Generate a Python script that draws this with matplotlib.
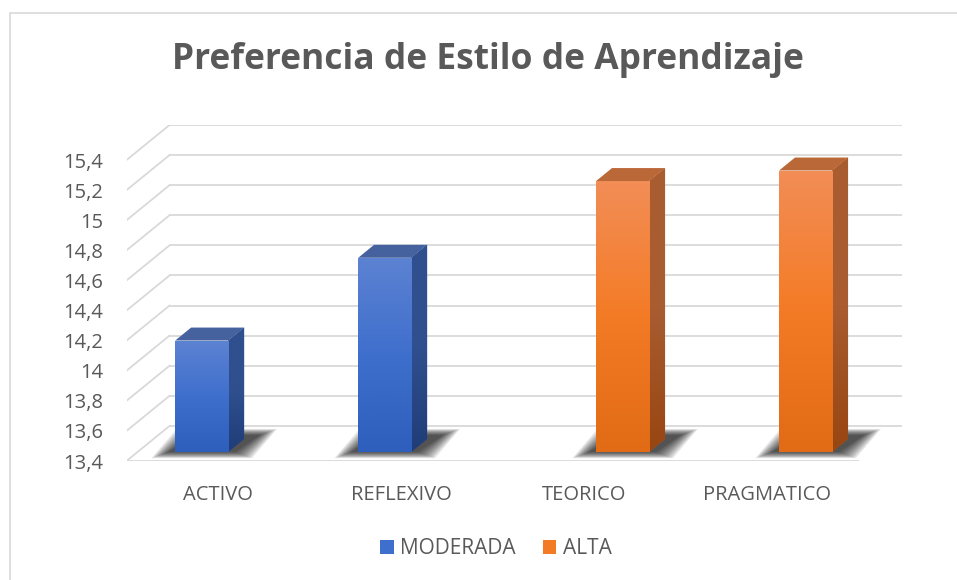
import numpy as np
import matplotlib
matplotlib.use("Agg")
import matplotlib.pyplot as plt
import matplotlib.patches as mpatches
from matplotlib.colors import LinearSegmentedColormap

# datos del grafico
categorias = ['ACTIVO', 'REFLEXIVO', 'TEORICO', 'PRAGMATICO']
series = ['MODERADA', 'ALTA']
serie_de_cat = [0, 0, 1, 1]
valores = [14.14, 14.69, 15.20, 15.27]
ticks_y = [13.4, 13.6, 13.8, 14.0, 14.2, 14.4, 14.6, 14.8, 15.0, 15.2, 15.4]
etiquetas_y = ['13,4', '13,6', '13,8', '14', '14,2', '14,4', '14,6', '14,8', '15', '15,2', '15,4']

plt.rcParams['font.family'] = ['Open Sans', 'DejaVu Sans']
gris = '#595959'

fig = plt.figure(figsize=(9.57, 5.80), dpi=100)

# perspectiva "3D" (desplazamiento del fondo en unidades de datos)
dx, dy = 0.235, 0.233
ymin, ymax = 13.4, 15.4
xmin, xmax = -0.5, 3.5

ax = fig.add_axes([126.5 / 957, (580 - 461) / 580, 775 / 957, 336 / 580])
for s in ax.spines.values():
    s.set_visible(False)

"""rejilla: pared del fondo y diagonales"""
gcol = '#d9d9d9'
for v in ticks_y:
    ax.plot([xmin + dx, xmax + dx], [v + dy, v + dy], color=gcol, lw=1.3, zorder=1)
    ax.plot([xmin, xmin + dx], [v, v + dy], color=gcol, lw=1.3, zorder=1)
ax.plot([xmin, xmax], [ymin, ymin], color=gcol, lw=1.3, zorder=1)

colores = {
    0: dict(top='#5c82d2', mid='#3f6fcd', bot='#2f5fbd', side_t='#2f4f8e', side_b='#1f3d78', cap='#45629f'),
    1: dict(top='#f28d56', mid='#f47b25', bot='#e26b16', side_t='#a85c30', side_b='#984612', cap='#bb6838'),
}

f0, d = 0.26, 0.37     # posicion y profundidad de las barras
off, w = 0.15, 0.29

def gradiente(patch, c_top, c_mid, c_bot, extent, z):
    cmap = LinearSegmentedColormap.from_list('g', [c_bot, c_mid, c_top])
    img = ax.imshow(np.linspace(0, 1, 64).reshape(-1, 1), cmap=cmap, aspect='auto',
                    extent=extent, origin='lower', zorder=z, interpolation='bicubic')
    img.set_clip_path(patch)

for i, (cat, val) in enumerate(zip(categorias, valores)):
    s = serie_de_cat[i]
    c = colores[s]
    xc = i + f0 * dx + (-off if s == 0 else off)
    b = ymin + f0 * dy
    t = val + f0 * dy
    xl, xr = xc - w / 2, xc + w / 2

    # sombra difusa sobre el piso
    p = 0.54
    for k in range(12):
        e = 0.06 - k * 0.0085   # borde difuso
        ey = e * 0.45
        sh = mpatches.Polygon([(xl - 0.07 - e, b - 0.015 - ey), (xr + 0.07 + e, b - 0.015 - ey),
                               (xr + p * dx + 0.08 + e, b + p * dy + ey),
                               (xl + p * dx - 0.06 - e, b + p * dy + ey)],
                              closed=True, fc='black', ec='none', alpha=0.085, zorder=2)
        ax.add_patch(sh)

    # cara frontal
    bar = ax.bar(xc, val - ymin, width=w, bottom=b, color=c['mid'], zorder=4)[0]
    gradiente(bar, c['top'], c['mid'], c['bot'], [xl, xr, b, t], 4.1)

    # cara lateral
    lado = mpatches.Polygon([(xr, b), (xr, t), (xr + d * dx, t + d * dy), (xr + d * dx, b + d * dy)],
                            closed=True, fc=c['side_t'], ec='none', zorder=3)
    ax.add_patch(lado)
    gradiente(lado, c['side_t'], c['side_t'], c['side_b'], [xr, xr + d * dx, b, t + d * dy], 3.1)

    # cara superior
    tapa = mpatches.Polygon([(xl, t), (xr, t), (xr + d * dx, t + d * dy), (xl + d * dx, t + d * dy)],
                            closed=True, fc=c['cap'], ec='none', zorder=5)
    ax.add_patch(tapa)

ax.set_xlim(xmin, xmax + dx)
ax.set_ylim(ymin, ymax + dy)

ax.set_yticks(ticks_y)
ax.set_yticklabels(etiquetas_y)
ax.set_xticks(range(len(categorias)))
ax.set_xticklabels(categorias)
ax.tick_params(axis='y', length=0, pad=17, labelsize=14.5, labelcolor=gris)
ax.tick_params(axis='x', length=0, pad=17, labelsize=14.5, labelcolor=gris)

fig.text(488 / 957, 1 - 60 / 580, 'Preferencia de Estilo de Aprendizaje', fontsize=25.5,
         fontweight='bold', color=gris, ha='center', va='center')

# leyenda
handles = [mpatches.Patch(facecolor=colores[0]['mid'], label=series[0]),
           mpatches.Patch(facecolor=colores[1]['mid'], label=series[1])]
fig.legend(handles=handles, loc='center', bbox_to_anchor=(496 / 957, 1 - 549 / 580), ncol=2,
           frameon=False, handlelength=0.65, handleheight=0.65, handletextpad=0.3,
           columnspacing=1.3, prop={'size': 15}, labelcolor=gris)

# marco del grafico
marco = mpatches.Rectangle((10 / 957, -0.05), 1.1, (580 - 13) / 580 + 0.05, transform=fig.transFigure,
                           fill=False, ec='#d9d9d9', lw=1.2)
fig.patches.append(marco)

plt.savefig('out.png', dpi=100)
